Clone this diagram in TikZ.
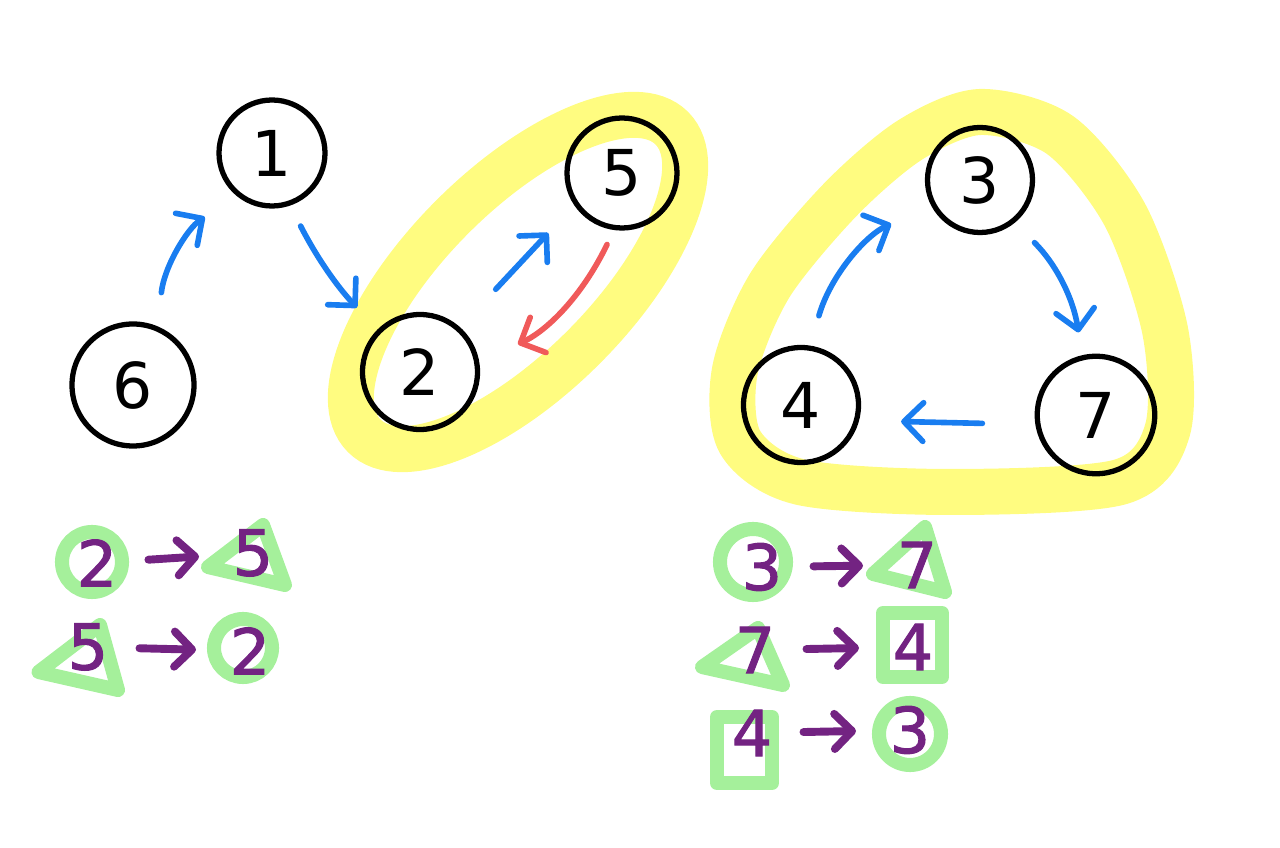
\documentclass[tikz,border=0pt]{standalone}
\usepackage{fontspec}
\setmainfont{DejaVu Sans}
\newfontfamily\penfont[FakeBold=1.6]{DejaVu Sans}
\usetikzlibrary{arrows.meta}
\definecolor{hlyellow}{RGB}{255,252,128}
\definecolor{hlgreen}{RGB}{165,240,155}
\definecolor{penblue}{RGB}{25,125,240}
\definecolor{penred}{RGB}{240,90,90}
\definecolor{penpurple}{RGB}{115,35,130}
\begin{document}
\begin{tikzpicture}[
    vtx/.style={circle,draw=black,line width=3pt,inner sep=0pt,font=\fontsize{36}{36}\selectfont},
    bluearr/.style={penblue,line width=3.2pt,line cap=round,-{Straight Barb[length=11pt,width=22pt,round]}},
    digit/.style={penpurple,inner sep=2pt,font=\fontsize{36}{36}\penfont},
    pairarr/.style={penpurple,line width=4.5pt,line cap=round,-{Straight Barb[length=10pt,width=20pt,round]},shorten <=0.55cm,shorten >=0.6cm},
    hl/.style={hlgreen,line width=8pt,line join=round}
  ]
    \useasboundingbox (0,0) rectangle (25.6,16.94);
    % highlighted components
    \draw[hlyellow,line width=0.92cm,rotate around={45:(10.36,11.30)}] (10.36,11.30) ellipse (4.35 and 1.85);
    \draw[hlyellow,line width=0.92cm] plot[smooth cycle] coordinates {(19.6,14.7) (21.2,14.24) (22.5,12.64) (23.3,10.34) (23.35,8.34) (22.4,7.3) (19.0,7.1) (16.0,7.3) (14.8,8.1) (14.7,9.54) (15.4,11.24) (16.8,12.94) (18.2,14.14)};

    \node[vtx,minimum size=2.12cm] (n1) at (5.44,13.88) {1};
    \node[vtx,minimum size=2.44cm] (n6) at (2.66,9.24) {6};
    \node[vtx,minimum size=2.3cm] (n2) at (8.40,9.50) {2};
    \node[vtx,minimum size=2.2cm] (n5) at (12.44,13.48) {5};
    \node[vtx,minimum size=2.1cm] (n3) at (19.60,13.34) {3};
    \node[vtx,minimum size=2.3cm] (n4) at (16.02,8.84) {4};
    \node[vtx,minimum size=2.35cm] (n7) at (21.92,8.64) {7};

    \draw[bluearr,shorten <=0.68cm,shorten >=0.76cm] (n6.67) to[bend left=25] (n1.230);
    \draw[bluearr,shorten <=0.46cm,shorten >=0.6cm] (n1.-71) to[bend right=8] (n2.135);
    \draw[bluearr,shorten <=1.04cm,shorten >=0.76cm] (n2.48) -- (n5.214);
    \draw[bluearr,penred,shorten <=0.32cm,shorten >=0.85cm] (n5.262) to[bend left=20] (n2.10);
    \draw[bluearr,shorten <=0.62cm,shorten >=0.88cm] (n4.81) to[bend left=25] (n3.208);
    \draw[bluearr,shorten <=0.56cm,shorten >=0.46cm] (n3.-51) to[bend left=18] (n7.103);
    \draw[bluearr,shorten <=1.06cm,shorten >=0.84cm] (n7.189) -- (n4.-15);

    % green marks under the pairs
    \draw[hl] (1.84,5.70) circle (0.6);
    \draw[hl] (4.16,5.60) -- (5.26,6.44) -- (5.70,5.24) -- cycle;
    \draw[hl] (0.77,3.5) -- (2.0,4.44) -- (2.36,3.14) -- cycle;
    \draw[hl] (4.86,3.98) circle (0.58);
    \draw[hl] (15.06,5.70) circle (0.66);
    \draw[hl] (17.46,5.46) -- (18.5,6.4) -- (18.9,5.1) -- cycle;
    \draw[hl] (14.04,3.6) -- (15.16,4.38) -- (15.66,3.24) -- cycle;
    \draw[hl] (17.66,4.68) rectangle (18.84,3.40);
    \draw[hl] (14.34,2.6) rectangle (15.44,1.28);
    \draw[hl] (18.2,2.26) circle (0.62);

    \node[digit] (l1) at (1.94,5.68) {2};
    \node[digit] (r1) at (5.06,5.88) {5};
    \node[digit] (l2) at (1.76,4.0) {5};
    \node[digit] (r2) at (5.0,3.92) {2};
    \node[digit] (l3) at (15.24,5.6) {3};
    \node[digit] (r3) at (18.34,5.64) {7};
    \node[digit] (l4) at (15.1,3.94) {7};
    \node[digit] (r4) at (18.26,4.0) {4};
    \node[digit] (l5) at (15.04,2.28) {4};
    \node[digit] (r5) at (18.2,2.34) {3};

    \draw[pairarr] (l1) -- (r1);
    \draw[pairarr] (l2) -- (r2);
    \draw[pairarr] (l3) -- (r3);
    \draw[pairarr] (l4) -- (r4);
    \draw[pairarr] (l5) -- (r5);
\end{tikzpicture}
\end{document}
